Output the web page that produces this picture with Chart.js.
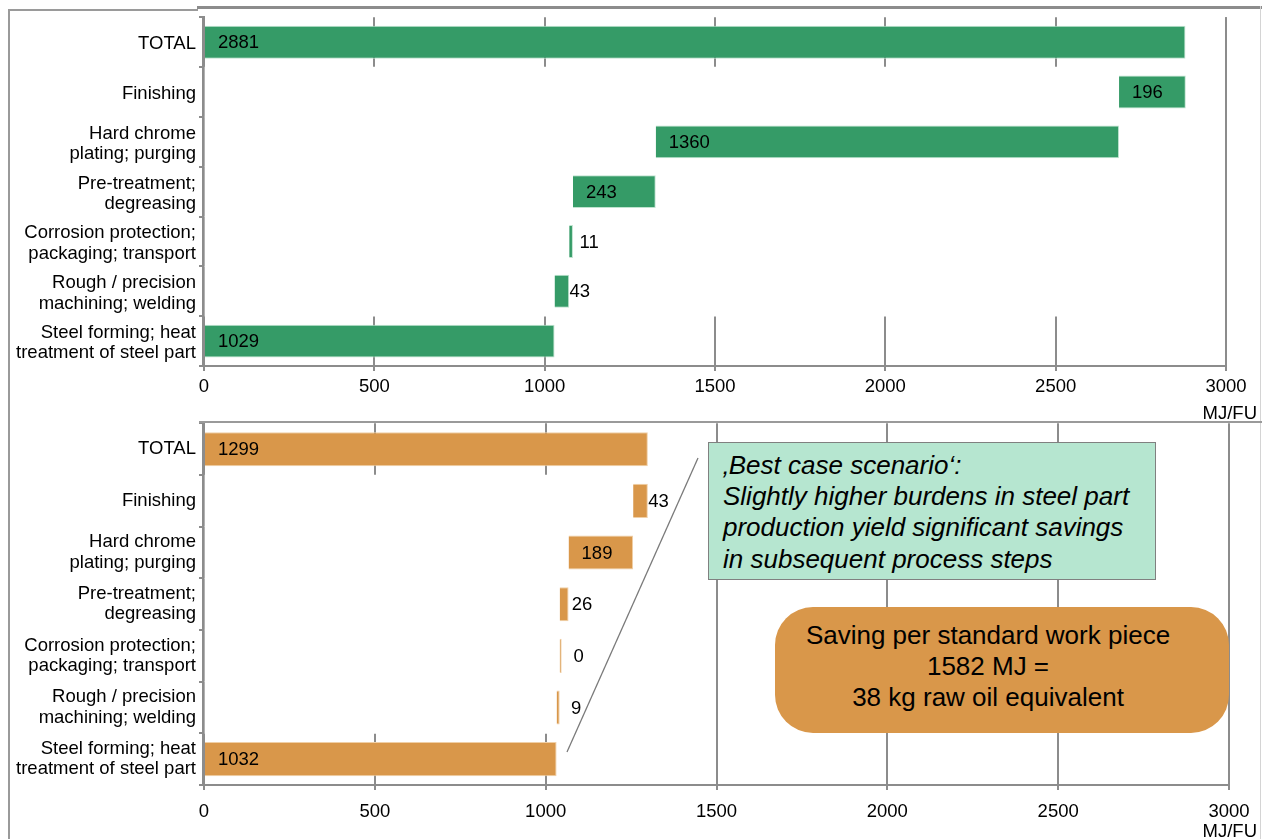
<!DOCTYPE html>
<html>

<head>
    <meta charset="utf-8" />
    <style>
        body { margin: 0; background: #fff; font-family: "Liberation Sans", Arial, sans-serif; }
        #page { position: relative; width: 1262px; height: 839px; overflow: hidden; background: #fff; }
        #page canvas { position: absolute; left: 0; }
        .rule { position: absolute; background: #9a9a9a; }
        .unit { position: absolute; right: 5px; font-size: 18.5px; line-height: 1; color: #000; }
        .note {
            position: absolute; left: 708px; top: 442px; width: 448px; height: 138px;
            box-sizing: border-box; background: #b6e6d0; border: 1.5px solid #808080;
            padding: 7px 0 0 14px; font-size: 26px; font-style: italic; line-height: 31.2px; color: #000;
        }
        .saving {
            position: absolute; left: 775px; top: 607px; width: 454px; height: 126px;
            box-sizing: border-box; background: #d9974a; border-radius: 38px;
            padding: 13px 28px 0 0; font-size: 26px; line-height: 31.2px; text-align: center; color: #000;
        }
    </style>
</head>

<body>
    <div id="page">
        <canvas id="chartTop" width="1262" height="416" style="top:-6px"></canvas>
        <canvas id="chartBottom" width="1262" height="439" style="top:400px"></canvas>

        <!-- frame lines of the two chart objects -->
        <div class="rule" style="left:8px; top:9px; width:2px; height:830px;"></div>
        <div class="rule" style="left:8px; top:9px; width:190px; height:1.5px;"></div>
        <div class="rule" style="left:197px; top:6px; width:1065px; height:2.5px; background:#8c8c8c;"></div>
        <div class="rule" style="left:1260px; top:6px; width:1px; height:833px; background:#d4d4d4;"></div>
        <div class="rule" style="left:199px; top:421px; width:1063px; height:2px;"></div>

        <div class="unit" style="top:404px;">MJ/FU</div>
        <div class="unit" style="top:822px;">MJ/FU</div>

        <svg width="1262" height="839" style="position:absolute;left:0;top:0;pointer-events:none">
            <line x1="567" y1="752" x2="698" y2="458" stroke="#7a7a7a" stroke-width="1.3" />
        </svg>

        <div class="note">‚Best case scenario‘:<br>Slightly higher burdens in steel part<br>production yield significant savings<br>in subsequent process steps</div>
        <div class="saving">Saving per standard work piece<br>1582 MJ =<br>38 kg raw oil equivalent</div>
    </div>

    <script src="https://cdn.jsdelivr.net/npm/chart.js"></script>
    <script type="text/javascript">

        // rows from top to bottom
        var categories = [
            ['TOTAL'],
            ['Finishing'],
            ['Hard chrome', 'plating; purging'],
            ['Pre-treatment;', 'degreasing'],
            ['Corrosion protection;', 'packaging; transport'],
            ['Rough / precision', 'machining; welding'],
            ['Steel forming; heat', 'treatment of steel part']
        ];

        // process steps in process order (steel forming first), MJ/FU
        var stepsCurrent = [1029, 43, 11, 243, 1360, 196];
        var totalCurrent = 2881;
        var stepsBest = [1032, 9, 0, 26, 189, 43];
        var totalBest = 1299;

        var xTicks = [0, 500, 1000, 1500, 2000, 2500, 3000];

        var labelFont = { family: 'Liberation Sans', size: 18.5, lineHeight: 1.1 };
        var gridGrey = '#8c8c8c';

        // floating bars: total on top, then the steps stacked from the bottom row upwards
        function waterfall(steps, total) {
            var run = 0;
            var bars = steps.map(function (v) {
                var b = [run, run + v];
                run += v;
                return b;
            });
            return [[0, total]].concat(bars.reverse());
        }

        function rowValues(steps, total) {
            return [total].concat(steps.slice().reverse());
        }

        // value labels: inside the bar near its base, or just beside a narrow bar
        var valueLabels = {
            id: 'valueLabels',
            afterDatasetsDraw: function (chart, args, opts) {
                var ctx = chart.ctx;
                var meta = chart.getDatasetMeta(0);
                ctx.save();
                ctx.font = '18.5px "Liberation Sans"';
                ctx.fillStyle = '#000';
                ctx.textBaseline = 'middle';
                meta.data.forEach(function (bar, i) {
                    var left = Math.min(bar.x, bar.base);
                    var right = Math.max(bar.x, bar.base);
                    var text = String(opts.values[i]);
                    if (right - left > 40) {
                        ctx.textAlign = 'left';
                        ctx.fillText(text, left + 13, bar.y + 1);
                    } else {
                        ctx.textAlign = 'center';
                        ctx.fillText(text, (left + right) / 2 + 18, bar.y + 1);
                    }
                });
                ctx.restore();
            }
        };

        // axis line and right plot edge redrawn over the white filler bars
        var plotEdges = {
            id: 'plotEdges',
            afterDatasetsDraw: function (chart, args, opts) {
                var a = chart.chartArea;
                var ctx = chart.ctx;
                ctx.save();
                ctx.strokeStyle = gridGrey;
                ctx.lineWidth = 2;
                ctx.beginPath();
                ctx.moveTo(a.left - 1, a.top);
                ctx.lineTo(a.left - 1, a.bottom);
                if (opts.right) {
                    ctx.moveTo(a.right, a.top);
                    ctx.lineTo(a.right, a.bottom);
                }
                ctx.stroke();
                ctx.restore();
            }
        };

        function makeChart(canvasId, bars, values, fillers, colour, edge, area) {
            var ctx = document.getElementById(canvasId).getContext('2d');
            return new Chart(ctx, {
                type: 'bar',
                data: {
                    labels: categories,
                    datasets: [{
                        data: bars,
                        backgroundColor: colour,
                        borderColor: edge,
                        borderWidth: 1,
                        barPercentage: 0.66,
                        categoryPercentage: 1,
                        minBarLength: 2,
                        grouped: false,
                        order: 0
                    }, {
                        // white filler bars hide the grid behind the steps
                        data: fillers,
                        backgroundColor: '#ffffff',
                        borderWidth: 0,
                        barPercentage: 1,
                        categoryPercentage: 1,
                        grouped: false,
                        order: 1
                    }]
                },
                options: {
                    indexAxis: 'y',
                    responsive: false,
                    animation: false,
                    layout: {
                        autoPadding: false,
                        padding: { left: 0, top: 0, right: area.right, bottom: 0 }
                    },
                    plugins: {
                        legend: { display: false },
                        tooltip: { enabled: false },
                        valueLabels: { values: values },
                        plotEdges: { right: area.edge }
                    },
                    scales: {
                        x: {
                            type: 'linear',
                            min: xTicks[0],
                            max: xTicks[xTicks.length - 1],
                            afterBuildTicks: function (scale) {
                                scale.ticks = xTicks.map(function (v) { return { value: v }; });
                            },
                            afterFit: function (scale) { scale.height = area.axisHeight; },
                            grid: { color: gridGrey, lineWidth: 2, tickLength: 5 },
                            border: { color: gridGrey, width: 2 },
                            ticks: {
                                font: labelFont, color: '#000', padding: area.tickPad, maxRotation: 0,
                                callback: function (v) { return String(v); }
                            }
                        },
                        y: {
                            type: 'category',
                            offset: true,
                            afterFit: function (scale) { scale.width = 204; },
                            grid: { offset: true, drawOnChartArea: false, color: gridGrey, lineWidth: 2, tickLength: 5 },
                            border: { color: gridGrey, width: 2 },
                            ticks: { font: labelFont, color: '#000', padding: 3, autoSkip: false, labelOffset: area.labelShift }
                        }
                    }
                },
                plugins: [valueLabels, plotEdges]
            });
        }

        var barsCurrent = waterfall(stepsCurrent, totalCurrent);
        var barsBest = waterfall(stepsBest, totalBest);

        // upper chart: middle rows blanked across the whole width
        var fillCurrent = barsCurrent.map(function (b) {
            return b[0] > 0 ? [0, xTicks[xTicks.length - 1]] : null;
        });
        // lower chart: blank only up to the start of each step
        var fillBest = barsBest.map(function (b) {
            return b[0] > 0 ? [0, b[0]] : null;
        });

        makeChart('chartTop', barsCurrent, rowValues(stepsCurrent, totalCurrent), fillCurrent,
            '#359b67', '#bfe3cf', { right: 36, axisHeight: 44, edge: true, tickPad: 6, labelShift: 2 });
        makeChart('chartBottom', barsBest, rowValues(stepsBest, totalBest), fillBest,
            '#d9974a', '#f0cfa6', { right: 33, axisHeight: 54, edge: false, tickPad: 12, labelShift: 0 });

    </script>

</body>

</html>
